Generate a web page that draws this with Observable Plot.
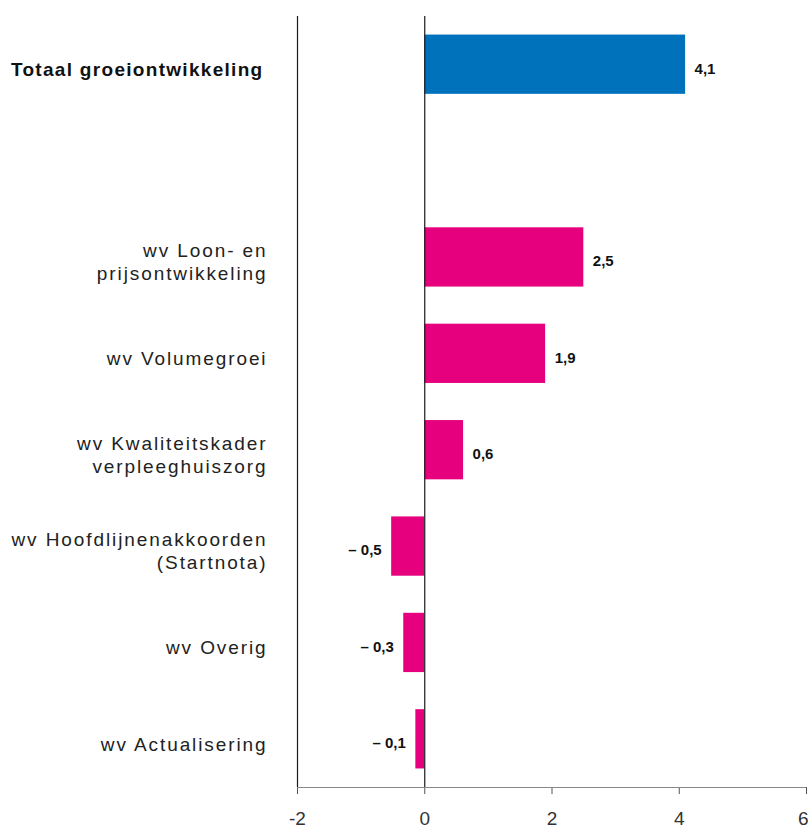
<!DOCTYPE html>
<html>
<head>
<meta charset="utf-8">
<script src="https://cdn.jsdelivr.net/npm/d3@7"></script>
<script src="https://cdn.jsdelivr.net/npm/@observablehq/plot@0.6"></script>
<style>
  html, body { margin: 0; padding: 0; background: #fff; }
  #chart svg { display: block; }
</style>
</head>
<body>
<div id="chart"></div>
<script>
const categories = [
  "Totaal groeiontwikkeling",
  "wv Loon- en\nprijsontwikkeling",
  "wv Volumegroei",
  "wv Kwaliteitskader\nverpleeghuiszorg",
  "wv Hoofdlijnenakkoorden\n(Startnota)",
  "wv Overig",
  "wv Actualisering"
];
const values = [4.1, 2.5, 1.9, 0.61, -0.52, -0.33, -0.14];
const valueLabels = ["4,1", "2,5", "1,9", "0,6", "\u2013 0,5", "\u2013 0,3", "\u2013 0,1"];
const spacer = " ";
const xTicks = [-2, 0, 2, 4, 6];

const data = categories.map((c, i) => ({
  cat: c, value: values[i], label: valueLabels[i], total: i === 0
}));
const domain = [categories[0], spacer, ...categories.slice(1)];
const font = "'Liberation Sans', Arial, Helvetica, sans-serif";
const H = 828, MB = 41;

const chart = Plot.plot({
  width: 808,
  height: H,
  marginTop: 16,
  marginBottom: MB,
  marginLeft: 297,
  marginRight: 2,
  style: { fontFamily: font, fontSize: "19px", color: "#555", background: "#fff" },
  x: {
    domain: [-2, 6], ticks: xTicks, tickSize: 7, tickPadding: 17,
    tickFormat: d => String(d), label: null
  },
  y: { domain, paddingInner: 0.385, paddingOuter: 0.1925, round: false, axis: null },
  marks: [
    Plot.barX(data, {
      y: "cat", x: "value",
      fill: d => d.total ? "#0071bb" : "#e6007e"
    }),
    Plot.ruleX([-2, 0], { stroke: "#1a1a1a", strokeWidth: 1.2 }),
    Plot.text(data.filter(d => d.value >= 0), {
      y: "cat", x: "value", text: "label", dx: 9, dy: 4, textAnchor: "start",
      fontSize: 15, fontWeight: "bold", fill: "#111"
    }),
    Plot.text(data.filter(d => d.value < 0), {
      y: "cat", x: "value", text: "label", dx: -10, dy: 4, textAnchor: "end",
      fontSize: 15, fontWeight: "bold", fill: "#111"
    }),
    Plot.text(data.filter(d => d.total), {
      y: "cat", text: "cat", frameAnchor: "left", dx: -34, dy: 5, textAnchor: "end",
      fontSize: 19, fontWeight: "bold", fill: "#111"
    }),
    Plot.text(data.filter(d => !d.total), {
      y: "cat", text: "cat", frameAnchor: "left", dx: -30, dy: 4, textAnchor: "end",
      fontSize: 19, lineHeight: 1.2, fill: "#222"
    })
  ]
});

// styling touches: letter spacing for category labels, tick label colour, last tick anchor
const catLines = new Set(categories.flatMap(c => c.split("\n")));
d3.select(chart).selectAll("text, tspan").each(function() {
  const el = d3.select(this);
  const t = this.textContent;
  if (this.tagName === "text" && catLines.has(t) || this.tagName === "tspan" && catLines.has(t)) {
    el.style("letter-spacing", t === categories[0] ? "1.3px" : "1.9px");
  }
  if (this.tagName === "text" && this.parentNode.getAttribute("aria-label") === "x-axis tick label") {
    el.attr("fill", "#333");
    if (t === String(xTicks[xTicks.length - 1])) el.attr("text-anchor", "end").attr("dx", 2);
  }
});
// axis baseline from the x scale's range
const xr = chart.scale("x").range;
d3.select(chart).append("line")
  .attr("x1", xr[0]).attr("x2", xr[1])
  .attr("y1", H - MB + 0.5).attr("y2", H - MB + 0.5)
  .attr("stroke", "#888").attr("stroke-width", 1.2);
document.getElementById("chart").append(chart);
</script>
</body>
</html>
